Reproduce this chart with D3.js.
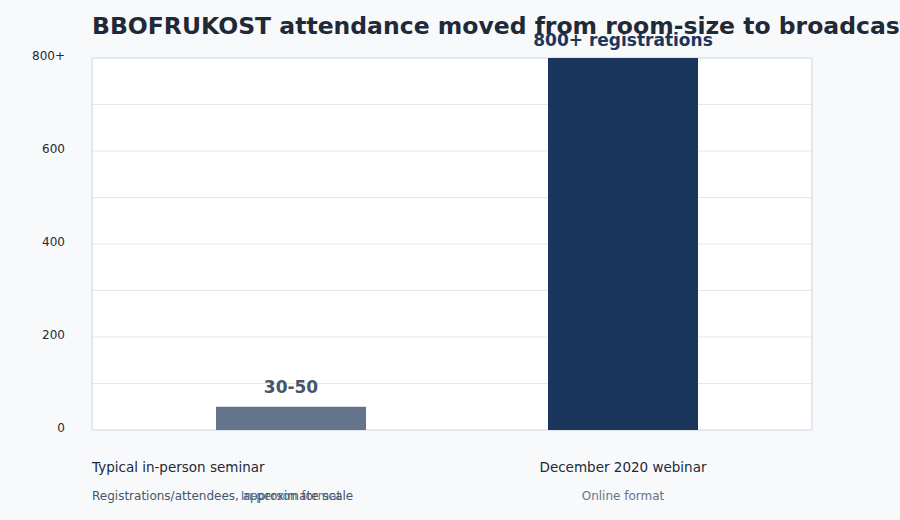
<!DOCTYPE html>
<html><head><meta charset="utf-8">
<script src="https://cdn.jsdelivr.net/npm/d3@7"></script>
<style>body{margin:0;background:#f8f9fb;font-family:"DejaVu Sans",sans-serif;}</style>
</head><body><svg id="c" width="900" height="520"></svg>
<script>
const categories = ["Typical in-person seminar", "December 2020 webinar"];
const subLabels = ["In-person format", "Online format"];
const values = [50, 800];
const valueLabels = ["30-50", "800+ registrations"];
const yTicks = [0, 200, 400, 600, 800];
const yTickLabels = ["0", "200", "400", "600", "800+"];
const gridValues = [100, 200, 300, 400, 500, 600, 700];
const colors = ["#64748b", "#1b365d"];

const svg = d3.select("#c");
const L = 92, R = 812, T = 58, B = 430, BW = 150;
const x = d3.scalePoint().domain(categories).range([291, 623]);
const y = d3.scaleLinear().domain([0, 800]).range([B, T]);

svg.append("rect").attr("x", L).attr("y", T).attr("width", R - L).attr("height", B - T)
  .attr("fill", "#fff").attr("stroke", "#cbd5e1");
svg.selectAll(".g").data(gridValues).join("line")
  .attr("x1", L).attr("x2", R).attr("y1", d => y(d)).attr("y2", d => y(d))
  .attr("stroke", "#e5e7eb");

const ya = svg.append("g").attr("transform", `translate(${L - 24},0)`)
  .call(d3.axisLeft(y).tickValues(yTicks).tickFormat((d, i) => yTickLabels[i]).tickSize(0));
ya.select(".domain").remove();
ya.selectAll("text").attr("font-family", "DejaVu Sans").attr("font-size", 12).attr("fill", "#1f2937").attr("dy", "0.15em");

svg.selectAll(".bar").data(values).join("rect")
  .attr("x", (d, i) => x(categories[i]) - BW / 2).attr("width", BW)
  .attr("y", d => y(d)).attr("height", d => B - y(d)).attr("fill", (d, i) => colors[i]);

svg.selectAll(".vl").data(values).join("text")
  .attr("x", (d, i) => x(categories[i])).attr("y", (d, i) => i ? y(d) - 12 : y(d) - 14)
  .attr("text-anchor", "middle").attr("font-size", 17).attr("font-weight", "bold")
  .attr("fill", (d, i) => i ? "#1b365d" : "#475569").text((d, i) => valueLabels[i]);

svg.selectAll(".cl").data(categories).join("text")
  .attr("x", (d, i) => i ? x(d) : L).attr("y", 472)
  .attr("text-anchor", (d, i) => i ? "middle" : "start")
  .attr("font-size", 13.5).attr("fill", "#1f2937").text(d => d);
svg.selectAll(".sl").data(subLabels).join("text")
  .attr("x", (d, i) => x(categories[i])).attr("y", 500)
  .attr("text-anchor", "middle").attr("font-size", 12).attr("fill", "#64748b").text(d => d);
svg.append("text").attr("x", L).attr("y", 500).attr("font-size", 12).attr("fill", "#475569")
  .text("Registrations/attendees, approximate scale");

svg.append("text").attr("x", 92).attr("y", 34).attr("font-size", 23.5).attr("font-weight", "bold")
  .attr("fill", "#1f2937").text("BBOFRUKOST attendance moved from room-size to broadcast scale");
</script></body></html>
